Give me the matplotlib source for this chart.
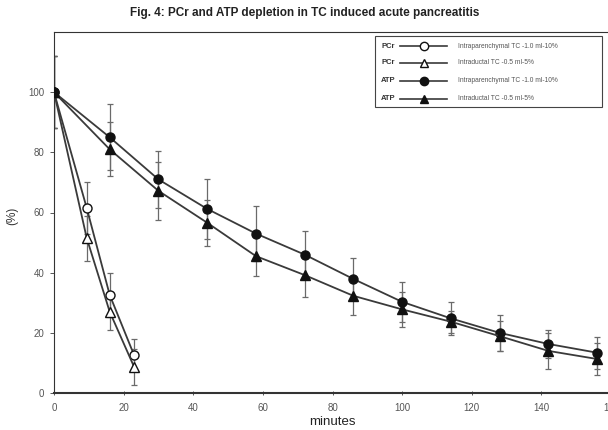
import matplotlib
matplotlib.use("Agg")
import matplotlib.pyplot as plt
from matplotlib.lines import Line2D
from matplotlib.patches import Rectangle

plt.rcParams['font.family'] = ['Liberation Sans', 'DejaVu Sans']

# Data (minutes, % of baseline)
pcr_t = [0, 9.4, 16, 23]
pcr_intrapar = [100, 61.5, 32.6, 12.6]
pcr_intrapar_err = [12, 8.5, 7.4, 5.4]
pcr_intraduc = [100, 51.5, 27, 8.7]
pcr_intraduc_err = [12, 7.5, 6, 6]

atp_t = [0, 16, 30, 44, 58, 72, 86, 100, 114, 128, 142, 156]
atp_intrapar = [100, 85, 71, 61.2, 53, 46, 37.9, 30.3, 24.8, 20, 16.3, 13.4]
atp_intrapar_err = [12, 11, 9.4, 10, 9, 8, 7, 6.7, 5.5, 6, 4.7, 5.3]
atp_intraduc = [100, 81, 67.2, 56.6, 45.5, 39.2, 32.3, 27.8, 23.7, 18.9, 14, 11.3]
atp_intraduc_err = [12, 9, 9.7, 7.6, 6.5, 7.2, 6.3, 5.8, 3.7, 4.9, 6, 5.3]

xticks = [0, 20, 40, 60, 80, 100, 120, 140, 160]
yticks = [0, 20, 40, 60, 80, 100]

legend_left = ["PCr", "PCr", "ATP", "ATP"]
legend_desc = ["Intraparenchymal TC -1.0 ml-10%", "Intraductal TC -0.5 ml-5%",
               "Intraparenchymal TC -1.0 ml-10%", "Intraductal TC -0.5 ml-5%"]

W, H = 608, 430
fig = plt.figure(figsize=(W / 100, H / 100), dpi=100)
left_px, right_px, top_px, bot_px = 54, 611, 32, 393
ax = fig.add_axes([left_px / W, (H - bot_px) / H, (right_px - left_px) / W, (bot_px - top_px) / H])
ax.set_xlim(0, 160)
ax.set_ylim(0, 120)

line_col = '#3a3a3a'
err_col = '#6a6a6a'

series = [
    (pcr_t, pcr_intrapar, pcr_intrapar_err, 'o', 'white'),
    (pcr_t, pcr_intraduc, pcr_intraduc_err, '^', 'white'),
    (atp_t, atp_intrapar, atp_intrapar_err, 'o', '#111111'),
    (atp_t, atp_intraduc, atp_intraduc_err, '^', '#111111'),
]
for t, v, e, m, fc in series:
    ax.errorbar(t, v, yerr=e, fmt='none', ecolor=err_col, elinewidth=0.9,
                capsize=2, capthick=0.9, zorder=2)
    ax.plot(t, v, color=line_col, lw=1.3, marker=m, markersize=6.5,
            markerfacecolor=fc, markeredgecolor='#111111', markeredgewidth=1.0, zorder=3)

ax.spines['right'].set_visible(False)
for s in ['left', 'bottom', 'top']:
    ax.spines[s].set_color('#333333')
ax.spines['bottom'].set_linewidth(1.5)
ax.spines['left'].set_linewidth(0.8)
ax.spines['top'].set_linewidth(0.8)

ax.set_xticks(xticks)
ax.set_xticklabels([str(x) for x in xticks])
ax.set_yticks(yticks)
ax.set_yticklabels([str(y) for y in yticks])
ax.tick_params(axis='both', labelsize=7, colors='#555555', length=3, width=0.7, pad=4)
ax.tick_params(axis='x', direction='inout', pad=6)

ax.set_xlabel('minutes', fontsize=9.5, color='#222222', labelpad=2)
ax.set_ylabel('(%)', fontsize=8.5, color='#333333')
ax.yaxis.set_label_coords((18 - left_px) / (right_px - left_px), 0.49)
fig.text(305 / W, 1 - 13 / H, 'Fig. 4: PCr and ATP depletion in TC induced acute pancreatitis',
         ha='center', va='center', fontsize=8.5, fontweight='bold', color='#222222')

# manual legend (figure pixel coordinates)
def fx(px):
    return px / W
def fy(py):
    return 1 - py / H

fig.patches.append(Rectangle((fx(375), fy(107)), fx(602) - fx(375), fy(36) - fy(107),
                             transform=fig.transFigure, fill=True, facecolor='white',
                             edgecolor='#444444', lw=0.8, zorder=5))
rows_y = [46, 63, 81, 99]
markers = [('o', 'white'), ('^', 'white'), ('o', '#111111'), ('^', '#111111')]
for yy, lab, desc, (m, fc) in zip(rows_y, legend_left, legend_desc, markers):
    fig.text(fx(381), fy(yy), lab, ha='left', va='center', fontsize=5.5,
             fontweight='bold', color='#333333', zorder=6)
    fig.add_artist(Line2D([fx(400), fx(447)], [fy(yy), fy(yy)], transform=fig.transFigure,
                          color=line_col, lw=1.2, zorder=6))
    fig.add_artist(Line2D([fx(424)], [fy(yy)], transform=fig.transFigure, marker=m,
                          markersize=6, markerfacecolor=fc, markeredgecolor='#111111',
                          markeredgewidth=1.0, lw=0, zorder=7))
    fig.text(fx(458), fy(yy), desc, ha='left', va='center', fontsize=4.8,
             color='#555555', zorder=6)

fig.savefig('out.png', dpi=100)
